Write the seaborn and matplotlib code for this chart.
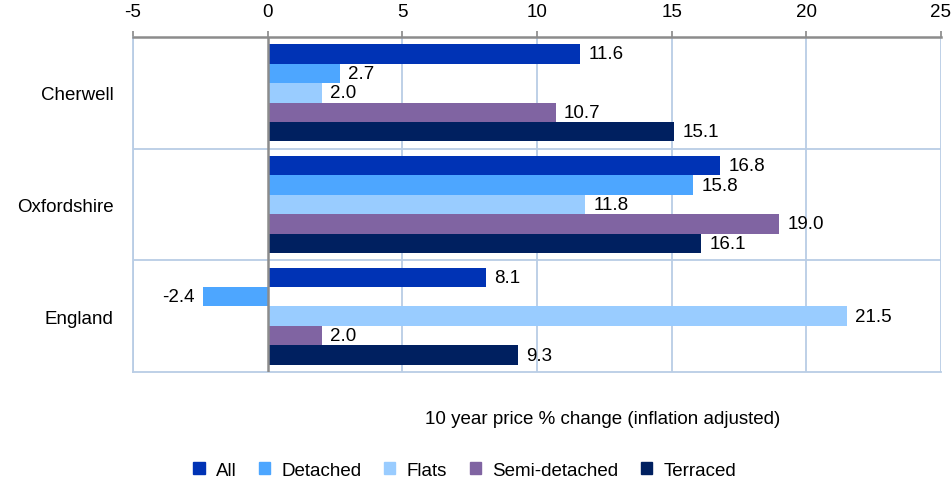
import matplotlib
matplotlib.use("Agg")
import matplotlib.pyplot as plt
import pandas as pd
import seaborn as sns

AREAS = ["Cherwell", "Oxfordshire", "England"]
TYPES = ["All", "Detached", "Flats", "Semi-detached", "Terraced"]
CHERWELL = [11.6, 2.7, 2.0, 10.7, 15.1]
OXFORDSHIRE = [16.8, 15.8, 11.8, 19.0, 16.1]
ENGLAND = [8.1, -2.4, 21.5, 2.0, 9.3]
COLORS = ["#0033b5", "#4da6ff", "#99ccff", "#8064a2", "#002060"]

rows = []
for area, vals in zip(AREAS, [CHERWELL, OXFORDSHIRE, ENGLAND]):
    for t, v in zip(TYPES, vals):
        rows.append({"area": area, "type": t, "change": v})
df = pd.DataFrame(rows)

sns.set_theme(style="white")
plt.rcParams["font.family"] = ["Liberation Sans", "DejaVu Sans"]
plt.rcParams["axes.unicode_minus"] = False
plt.rcParams["text.color"] = "black"
plt.rcParams["xtick.labelcolor"] = "black"
plt.rcParams["ytick.labelcolor"] = "black"

fig = plt.figure(figsize=(9.52, 4.81), dpi=100)
ax = fig.add_axes([0.1397, 0.2245, 0.8487, 0.6965])

sns.barplot(data=df, y="area", x="change", hue="type", order=AREAS,
            hue_order=TYPES, palette=COLORS, orient="h", width=0.87,
            saturation=1, legend=False, linewidth=0, ax=ax)

for cont in ax.containers:
    for bar in cont:
        w = bar.get_width()
        yc = bar.get_y() + bar.get_height() / 2
        if w >= 0:
            ax.text(w + 0.3, yc, f"{w:.1f}", va="center", ha="left", fontsize=13.5)
        else:
            ax.text(w - 0.3, yc, f"{w:.1f}", va="center", ha="right", fontsize=13.5)

ax.set_xlim(-5, 25)
ax.set_ylim(2.5, -0.5)
ax.set_xticks(range(-5, 26, 5))
ax.xaxis.tick_top()
ax.tick_params(axis="x", top=True, length=4, color="#8c8c8c", labelsize=13.5, pad=8)
ax.tick_params(axis="y", left=False, labelsize=13.5, pad=8)
ax.set_xlabel("")
ax.set_ylabel("")

grid_c = "#b9cde5"
for x in range(-5, 26, 5):
    if x != 0:
        ax.axvline(x, color=grid_c, lw=1.3, zorder=0)
for y in [0.5, 1.5]:
    ax.axhline(y, color=grid_c, lw=1.3, zorder=0)
ax.axvline(0, color="#8c8c8c", lw=1.8, zorder=3)

for side in ["left", "bottom", "right"]:
    ax.spines[side].set_color(grid_c)
    ax.spines[side].set_linewidth(1.3)
ax.spines["right"].set_visible(False)
ax.spines["top"].set_color("#8c8c8c")
ax.spines["top"].set_linewidth(1.8)

fig.text(0.633, 0.127, "10 year price % change (inflation adjusted)",
         ha="center", va="center", fontsize=13.5)

handles = [plt.Rectangle((0, 0), 1, 1, color=c) for c in COLORS]
fig.legend(handles, TYPES, loc="center", bbox_to_anchor=(0.488, 0.02),
           ncol=5, frameon=False, fontsize=13.5, handlelength=0.6,
           handleheight=0.6, columnspacing=1.2, handletextpad=0.6)

fig.savefig("out.png", dpi=100)
